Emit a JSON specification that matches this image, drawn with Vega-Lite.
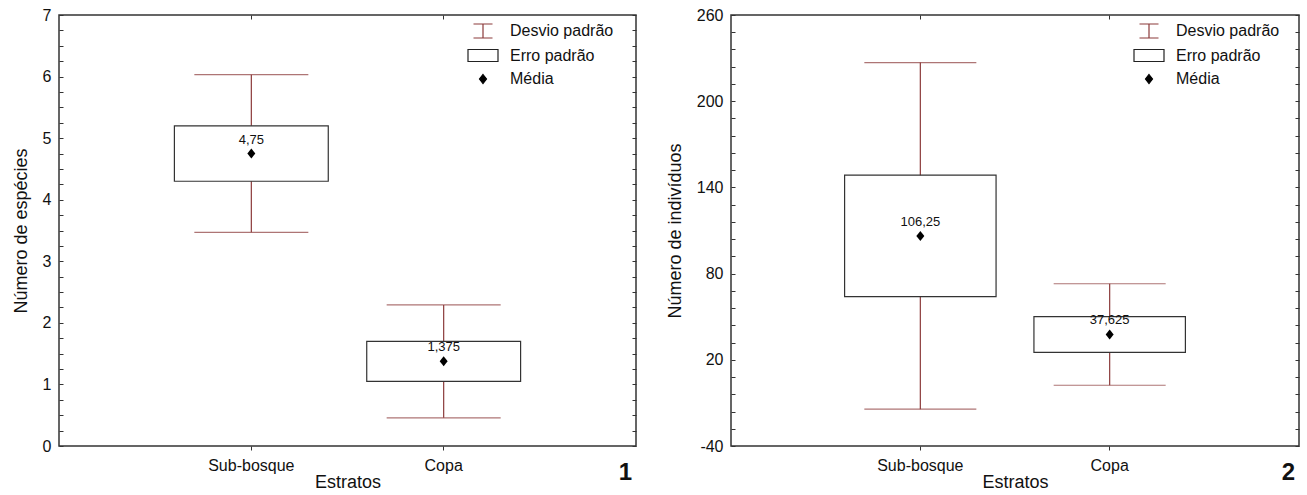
{
  "$schema": "https://vega.github.io/schema/vega-lite/v6.json",
  "padding": {"left": 11, "top": 6, "right": 0, "bottom": 0},
  "background": "white",
  "config": {
    "font": "Liberation Sans",
    "view": {"stroke": "#333", "strokeWidth": 1.5},
    "axis": {"labelFontSize": 16, "titleFontSize": 18, "titleFontWeight": "normal", "labelColor": "#111", "titleColor": "#111", "tickColor": "#333", "grid": false, "domain": false, "labelOverlap": false},
    "legend": {"labelFontSize": 16, "labelColor": "#111"}
  },
  "hconcat": [
    {
      "width": 577,
      "height": 431,
      "title": {"text": "1", "orient": "bottom", "anchor": "end", "frame": "group", "fontSize": 24, "fontWeight": "bold", "offset": -30, "dx": -4, "color": "#111"},
      "data": {"values": [
        {"estrato": "Sub-bosque", "media": 4.75, "ep_lo": 4.30, "ep_hi": 5.20, "dp_lo": 3.47, "dp_hi": 6.03, "label": "4,75"},
        {"estrato": "Copa", "media": 1.375, "ep_lo": 1.05, "ep_hi": 1.70, "dp_lo": 0.458, "dp_hi": 2.292, "label": "1,375"}
      ]},
      "layer": [
        {
          "mark": {"type": "rule", "color": "#8b3a3a", "strokeWidth": 1.2},
          "encoding": {
            "x": {"field": "estrato", "type": "nominal", "sort": ["Sub-bosque", "Copa"], "scale": {"type": "band", "paddingInner": 0.2, "paddingOuter": 0.6}, "axis": {"title": "Estratos", "tickSize": 4, "labelPadding": 7, "titlePadding": 0, "labelAngle": 0}},
            "y": {"field": "dp_lo", "type": "quantitative", "scale": {"domain": [0, 7], "nice": false, "zero": false}, "axis": {"title": "Número de espécies", "values": [0,0.25,0.5,0.75,1,1.25,1.5,1.75,2,2.25,2.5,2.75,3,3.25,3.5,3.75,4,4.25,4.5,4.75,5,5.25,5.5,5.75,6,6.25,6.5,6.75,7], "labelExpr": "datum.value % 1 === 0 ? '' + datum.value : ''", "tickSize": -4, "labelPadding": 12, "titlePadding": 12}},
            "y2": {"field": "dp_hi"}
          }
        },
        {
          "mark": {"type": "tick", "orient": "horizontal", "color": "#8b3a3a", "size": 114, "thickness": 1.2},
          "encoding": {
            "x": {"field": "estrato", "type": "nominal", "sort": ["Sub-bosque", "Copa"], "axis": {"orient": "top", "labels": false, "title": null, "tickSize": -4}},
            "y": {"field": "dp_hi", "type": "quantitative", "axis": {"orient": "right", "labels": false, "title": null, "tickSize": -4, "values": [0,0.25,0.5,0.75,1,1.25,1.5,1.75,2,2.25,2.5,2.75,3,3.25,3.5,3.75,4,4.25,4.5,4.75,5,5.25,5.5,5.75,6,6.25,6.5,6.75,7]}}
          }
        },
        {
          "mark": {"type": "tick", "orient": "horizontal", "color": "#8b3a3a", "size": 114, "thickness": 1.2},
          "encoding": {
            "x": {"field": "estrato", "type": "nominal", "sort": ["Sub-bosque", "Copa"], "axis": null},
            "y": {"field": "dp_lo", "type": "quantitative", "axis": null}
          }
        },
        {
          "mark": {"type": "bar", "fill": "white", "stroke": "#333", "strokeWidth": 1.2},
          "encoding": {
            "x": {"field": "estrato", "type": "nominal", "sort": ["Sub-bosque", "Copa"], "axis": null},
            "y": {"field": "ep_lo", "type": "quantitative", "axis": null},
            "y2": {"field": "ep_hi"}
          }
        },
        {
          "mark": {"type": "point", "shape": "M0,-1L0.8,0L0,1L-0.8,0Z", "size": 100, "filled": true, "color": "black", "opacity": 1},
          "encoding": {
            "x": {"field": "estrato", "type": "nominal", "sort": ["Sub-bosque", "Copa"], "axis": null},
            "y": {"field": "media", "type": "quantitative", "axis": null}
          }
        },
        {
          "mark": {"type": "text", "baseline": "middle", "dy": -14, "fontSize": 13, "color": "#111"},
          "encoding": {
            "x": {"field": "estrato", "type": "nominal", "sort": ["Sub-bosque", "Copa"], "axis": null},
            "y": {"field": "media", "type": "quantitative", "axis": null},
            "text": {"field": "label"}
          }
        },
        {
          "data": {"values": [{"item": "Desvio padrão"}, {"item": "Erro padrão"}, {"item": "Média"}]},
          "mark": {"type": "point", "opacity": 0, "strokeWidth": 1.2},
          "encoding": {
            "shape": {"field": "item", "type": "nominal", "scale": {"domain": ["Desvio padrão", "Erro padrão", "Média"], "range": ["M-0.95,-0.7H0.95M0,-0.7V0.7M-0.95,0.7H0.95", "M-1.5,-0.6H1.5V0.6H-1.5Z", "M0,-0.45L0.35,0L0,0.45L-0.35,0Z"]}, "legend": {"title": null, "orient": "none", "legendX": 413, "legendY": 5, "symbolSize": 400, "symbolStrokeWidth": 1.2, "labelFontSize": 16, "labelOffset": 16, "rowPadding": 3.5, "symbolOpacity": 1}},
            "fill": {"field": "item", "type": "nominal", "scale": {"domain": ["Desvio padrão", "Erro padrão", "Média"], "range": ["white", "white", "black"]}},
            "stroke": {"field": "item", "type": "nominal", "scale": {"domain": ["Desvio padrão", "Erro padrão", "Média"], "range": ["#8b3a3a", "#222", "black"]}}
          }
        }
      ],
      "resolve": {"axis": {"x": "independent", "y": "independent"}}
    },
    {
      "width": 568,
      "height": 431,
      "title": {"text": "2", "orient": "bottom", "anchor": "end", "frame": "group", "fontSize": 24, "fontWeight": "bold", "offset": -30, "dx": -4, "color": "#111"},
      "data": {"values": [
        {"estrato": "Sub-bosque", "media": 106.25, "ep_lo": 64.0, "ep_hi": 148.5, "dp_lo": -14.4, "dp_hi": 226.9, "label": "106,25"},
        {"estrato": "Copa", "media": 37.625, "ep_lo": 25.2, "ep_hi": 50.05, "dp_lo": 2.3, "dp_hi": 72.95, "label": "37,625"}
      ]},
      "layer": [
        {
          "mark": {"type": "rule", "color": "#8b3a3a", "strokeWidth": 1.2},
          "encoding": {
            "x": {"field": "estrato", "type": "nominal", "sort": ["Sub-bosque", "Copa"], "scale": {"type": "band", "paddingInner": 0.2, "paddingOuter": 0.6}, "axis": {"title": "Estratos", "tickSize": 4, "labelPadding": 7, "titlePadding": 0, "labelAngle": 0}},
            "y": {"field": "dp_lo", "type": "quantitative", "scale": {"domain": [-40, 260], "nice": false, "zero": false}, "axis": {"title": "Número de indivíduos", "values": [-40,-28,-16,-4,8,20,32,44,56,68,80,92,104,116,128,140,152,164,176,188,200,212,224,236,248,260], "labelExpr": "(datum.value + 40) % 60 === 0 ? '' + datum.value : ''", "tickSize": -4, "labelPadding": 12, "titlePadding": 12}},
            "y2": {"field": "dp_hi"}
          }
        },
        {
          "mark": {"type": "tick", "orient": "horizontal", "color": "#8b3a3a", "size": 112, "thickness": 1.2},
          "encoding": {
            "x": {"field": "estrato", "type": "nominal", "sort": ["Sub-bosque", "Copa"], "axis": {"orient": "top", "labels": false, "title": null, "tickSize": -4}},
            "y": {"field": "dp_hi", "type": "quantitative", "axis": {"orient": "right", "labels": false, "title": null, "tickSize": -4, "values": [-40,-28,-16,-4,8,20,32,44,56,68,80,92,104,116,128,140,152,164,176,188,200,212,224,236,248,260]}}
          }
        },
        {
          "mark": {"type": "tick", "orient": "horizontal", "color": "#8b3a3a", "size": 112, "thickness": 1.2},
          "encoding": {
            "x": {"field": "estrato", "type": "nominal", "sort": ["Sub-bosque", "Copa"], "axis": null},
            "y": {"field": "dp_lo", "type": "quantitative", "axis": null}
          }
        },
        {
          "mark": {"type": "bar", "fill": "white", "stroke": "#333", "strokeWidth": 1.2},
          "encoding": {
            "x": {"field": "estrato", "type": "nominal", "sort": ["Sub-bosque", "Copa"], "axis": null},
            "y": {"field": "ep_lo", "type": "quantitative", "axis": null},
            "y2": {"field": "ep_hi"}
          }
        },
        {
          "mark": {"type": "point", "shape": "M0,-1L0.8,0L0,1L-0.8,0Z", "size": 100, "filled": true, "color": "black", "opacity": 1},
          "encoding": {
            "x": {"field": "estrato", "type": "nominal", "sort": ["Sub-bosque", "Copa"], "axis": null},
            "y": {"field": "media", "type": "quantitative", "axis": null}
          }
        },
        {
          "mark": {"type": "text", "baseline": "middle", "dy": -14, "fontSize": 13, "color": "#111"},
          "encoding": {
            "x": {"field": "estrato", "type": "nominal", "sort": ["Sub-bosque", "Copa"], "axis": null},
            "y": {"field": "media", "type": "quantitative", "axis": null},
            "text": {"field": "label"}
          }
        },
        {
          "data": {"values": [{"item": "Desvio padrão"}, {"item": "Erro padrão"}, {"item": "Média"}]},
          "mark": {"type": "point", "opacity": 0, "strokeWidth": 1.2},
          "encoding": {
            "shape": {"field": "item", "type": "nominal", "scale": {"domain": ["Desvio padrão", "Erro padrão", "Média"], "range": ["M-0.95,-0.7H0.95M0,-0.7V0.7M-0.95,0.7H0.95", "M-1.5,-0.6H1.5V0.6H-1.5Z", "M0,-0.45L0.35,0L0,0.45L-0.35,0Z"]}, "legend": {"title": null, "orient": "none", "legendX": 407, "legendY": 5, "symbolSize": 400, "symbolStrokeWidth": 1.2, "labelFontSize": 16, "labelOffset": 16, "rowPadding": 3.5, "symbolOpacity": 1}},
            "fill": {"field": "item", "type": "nominal", "scale": {"domain": ["Desvio padrão", "Erro padrão", "Média"], "range": ["white", "white", "black"]}},
            "stroke": {"field": "item", "type": "nominal", "scale": {"domain": ["Desvio padrão", "Erro padrão", "Média"], "range": ["#8b3a3a", "#222", "black"]}}
          }
        }
      ],
      "resolve": {"axis": {"x": "independent", "y": "independent"}}
    }
  ],
  "spacing": 95,
  "bounds": "flush",
  "resolve": {
    "scale": {"x": "independent", "y": "independent", "shape": "independent", "fill": "independent", "stroke": "independent"},
    "legend": {"shape": "independent", "fill": "independent", "stroke": "independent"}
  }
}
